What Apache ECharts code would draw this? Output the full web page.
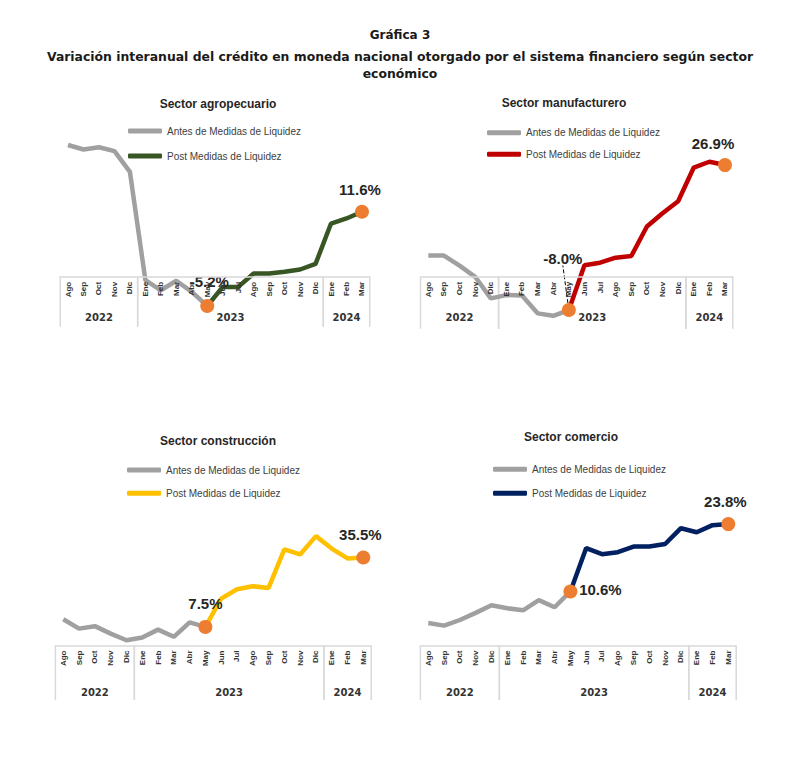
<!DOCTYPE html>
<html>
<head>
<meta charset="utf-8">
<title>Gráfica 3</title>
<script src="https://cdn.jsdelivr.net/npm/echarts@6/dist/echarts.min.js"></script>
<style>
  html, body { margin: 0; padding: 0; background: #fff; }
  #main { width: 800px; height: 757px; }
</style>
</head>
<body>
<div id="main"></div>
<script>
// categorias (Ago 2022 - Mar 2024)
var months = ['Ago','Sep','Oct','Nov','Dic','Ene','Feb','Mar','Abr','May','Jun','Jul','Ago','Sep','Oct','Nov','Dic','Ene','Feb','Mar'];
var yearLabels = ['2022','2023','2024'];
var yearStart = [0, 5, 17];
var yearEnd = [4, 16, 19];

// Antes: Ago22 - May23 ; Post: May23 - Mar24
var agroPre = [23.5, 22.7, 23.1, 22.4, 18.7, -0.6, -2.4, -0.7, -2.7, -5.2];
var agroPost = [-5.2, -1.8, -1.8, 0.6, 0.6, 0.9, 1.3, 2.3, 9.5, 10.4, 11.6];
var manufPre = [5.1, 5.1, 2.7, 0.0, -5.2, -4.4, -4.5, -8.8, -9.4, -8.0];
var manufPost = [-8.0, 2.8, 3.4, 4.6, 5.0, 12.1, 15.3, 18.2, 26.3, 27.7, 26.9];
var consPre = [10.6, 6.8, 7.8, 4.8, 2.1, 3.2, 6.4, 3.5, 9.3, 7.5];
var consPost = [7.5, 18.9, 22.7, 23.9, 23.2, 38.8, 36.7, 44.1, 39.1, 35.1, 35.5];
var comPre = [4.4, 3.9, 5.0, 6.4, 7.9, 7.3, 6.9, 8.9, 7.5, 10.6];
var comPost = [10.6, 19.1, 17.9, 18.3, 19.4, 19.4, 19.9, 23.0, 22.2, 23.6, 23.8];

var preName = 'Antes de Medidas de Liquidez';
var postName = 'Post Medidas de Liquidez';
var postStart = 9; // May 2023
var highlight = [9, 19];

var FONT = 'Liberation Sans';
var TFONT = 'DejaVu Sans';
var GRAY = '#a0a0a0';
var ORANGE = '#ed7d31';

// el eje de categorias queda en cero (min 0), lo negativo se dibuja debajo
var panels = [
  { title: 'Sector agropecuario', tx: 213, ty: 93, pre: agroPre, post: agroPost, color: '#375623',
    grid: { left: 60.3, width: 309.4, top: 142.2, height: 134.6 }, max: 24,
    tick: 50, yearDy: 41, legend: { left: 123, top: 121, gap: 15 },
    offsets: [[2, -24], [-2, -22]] },
  { title: 'Sector manufacturero', tx: 559, ty: 92, pre: manufPre, post: manufPost, color: '#c00000',
    grid: { left: 420.5, width: 312.3, top: 160.5, height: 116.3 }, max: 28,
    tick: 52, yearDy: 41, legend: { left: 482, top: 122.7, gap: 11.6 },
    offsets: [[-6, -52], [-12, -22]], leader: 0 },
  { title: 'Sector construcción', tx: 213, ty: 430, pre: consPre, post: consPost, color: '#ffc000',
    grid: { left: 55.4, width: 315.8, top: 533.9, height: 111.6 }, max: 45,
    tick: 54.5, yearDy: 47, legend: { left: 122, top: 460, gap: 13.3 },
    offsets: [[0, -23], [-3, -23]] },
  { title: 'Sector comercio', tx: 566, ty: 426, pre: comPre, post: comPost, color: '#002060',
    grid: { left: 420.4, width: 315.8, top: 523.1, height: 122.4 }, max: 24,
    tick: 54.5, yearDy: 47, legend: { left: 488, top: 459.3, gap: 14 },
    offsets: [[30, -2], [-3, -23]] }
];

function padData(arr, start) {
  var out = [];
  for (var i = 0; i < months.length; i++) {
    var j = i - start;
    out.push(j >= 0 && j < arr.length ? arr[j] : null);
  }
  return out;
}

var chartDom = document.getElementById('main');
var myChart = echarts.init(chartDom, null, { renderer: 'svg' });

var titles = [
  { text: 'Gráfica 3', left: 395, top: 24, textAlign: 'center',
    textStyle: { fontFamily: TFONT, fontSize: 12, fontWeight: 'bold', color: '#1a1a1a' } },
  { text: 'Variación interanual del crédito en moneda nacional otorgado por el sistema financiero según sector\neconómico',
    left: 395, top: 43, textAlign: 'center',
    textStyle: { fontFamily: TFONT, fontSize: 12.4, fontWeight: 'bold', color: '#1a1a1a', lineHeight: 17 } }
];
var grids = [], xAxes = [], yAxes = [], legends = [], series = [];

panels.forEach(function (p, k) {
  titles.push({ text: p.title, left: p.tx, top: p.ty, textAlign: 'center',
    textStyle: { fontFamily: FONT, fontSize: 12, fontWeight: 'bold', color: '#262626' } });
  grids.push(p.grid);
  xAxes.push({
    type: 'category', gridIndex: k, data: months, boundaryGap: true, z: 5,
    axisLine: { show: true, onZero: false, lineStyle: { color: '#d9d9d9', width: 1.5 } },
    axisTick: { show: false },
    axisLabel: { interval: 0, rotate: 90, margin: 5, fontFamily: FONT, fontSize: 8,
      fontWeight: 'bold', color: '#333' },
    splitLine: { show: false }
  });
  yAxes.push({ type: 'value', gridIndex: k, min: 0, max: p.max, show: false,
    splitLine: { show: false } });

  var pre = preName + '::' + k, post = postName + '::' + k;
  legends.push({
    orient: 'vertical', left: p.legend.left, top: p.legend.top, itemGap: p.legend.gap,
    itemWidth: 34, itemHeight: 5, icon: 'roundRect', selectedMode: false,
    formatter: function (n) { return n.split('::')[0]; },
    textStyle: { fontFamily: FONT, fontSize: 10, color: '#404040' },
    data: [{ name: pre, itemStyle: { color: GRAY } }, { name: post, itemStyle: { color: p.color } }]
  });

  series.push({
    name: pre, type: 'line', xAxisIndex: k, yAxisIndex: k, data: padData(p.pre, 0),
    showSymbol: false, symbol: 'none', clip: false, z: 2,
    lineStyle: { color: GRAY, width: 4.5 }, itemStyle: { color: GRAY }
  });

  var hasLeader = p.leader !== undefined;
  var postData = padData(p.post, postStart).map(function (v, i) {
    var h = highlight.indexOf(i);
    if (h < 0) return v;
    var item = { value: v, label: { show: true, position: 'inside' } };
    if (!hasLeader) item.label.offset = p.offsets[h];
    if (hasLeader && h === p.leader) {
      item.labelLine = { show: true, lineStyle: { color: '#000', width: 1, type: 'dashed' } };
    }
    return item;
  });
  var s = {
    name: post, type: 'line', xAxisIndex: k, yAxisIndex: k, data: postData,
    symbol: 'circle', showSymbol: true, clip: false, z: 3,
    symbolSize: function (v, params) { return highlight.indexOf(params.dataIndex) >= 0 ? 14 : 0; },
    lineStyle: { color: p.color, width: 4.5 }, itemStyle: { color: ORANGE },
    label: { show: false, formatter: function (pp) { return pp.value.toFixed(1) + '%'; },
      fontFamily: FONT, fontSize: 15, fontWeight: 'bold', color: '#262626' }
  };
  if (hasLeader) {
    s.labelLayout = function (pp) {
      var h = highlight.indexOf(pp.dataIndex);
      if (h < 0) return {};
      return { dx: p.offsets[h][0], dy: p.offsets[h][1] };
    };
    s.labelLine = { show: false };
  }
  series.push(s);

  // caja de años bajo el eje de meses
  series.push({
    type: 'custom', xAxisIndex: k, yAxisIndex: k, silent: true, clip: false, z: 1,
    data: yearStart.map(function (st, i) { return [st, yearEnd[i]]; }),
    encode: { x: [0, 1] },
    renderItem: function (params, api) {
      var band = api.size([1, 0])[0];
      var a = api.coord([api.value(0), 0]);
      var b = api.coord([api.value(1), 0]);
      var x0 = a[0] - band / 2, x1 = b[0] + band / 2, y0 = a[1];
      var ls = { stroke: '#d9d9d9', lineWidth: 1.5 };
      return {
        type: 'group',
        children: [
          { type: 'line', shape: { x1: x0, y1: y0, x2: x0, y2: y0 + p.tick }, style: ls },
          { type: 'line', shape: { x1: x1, y1: y0, x2: x1, y2: y0 + p.tick }, style: ls },
          { type: 'text', x: (x0 + x1) / 2, y: y0 + p.yearDy,
            style: { text: yearLabels[params.dataIndex], align: 'center', verticalAlign: 'middle',
              fontFamily: TFONT, fontSize: 10, fontWeight: 'bold', fill: '#333' } }
        ]
      };
    }
  });
});

var option = {
  backgroundColor: '#fff',
  animation: false,
  title: titles,
  legend: legends,
  grid: grids,
  xAxis: xAxes,
  yAxis: yAxes,
  series: series
};
myChart.setOption(option);
</script>
</body>
</html>
